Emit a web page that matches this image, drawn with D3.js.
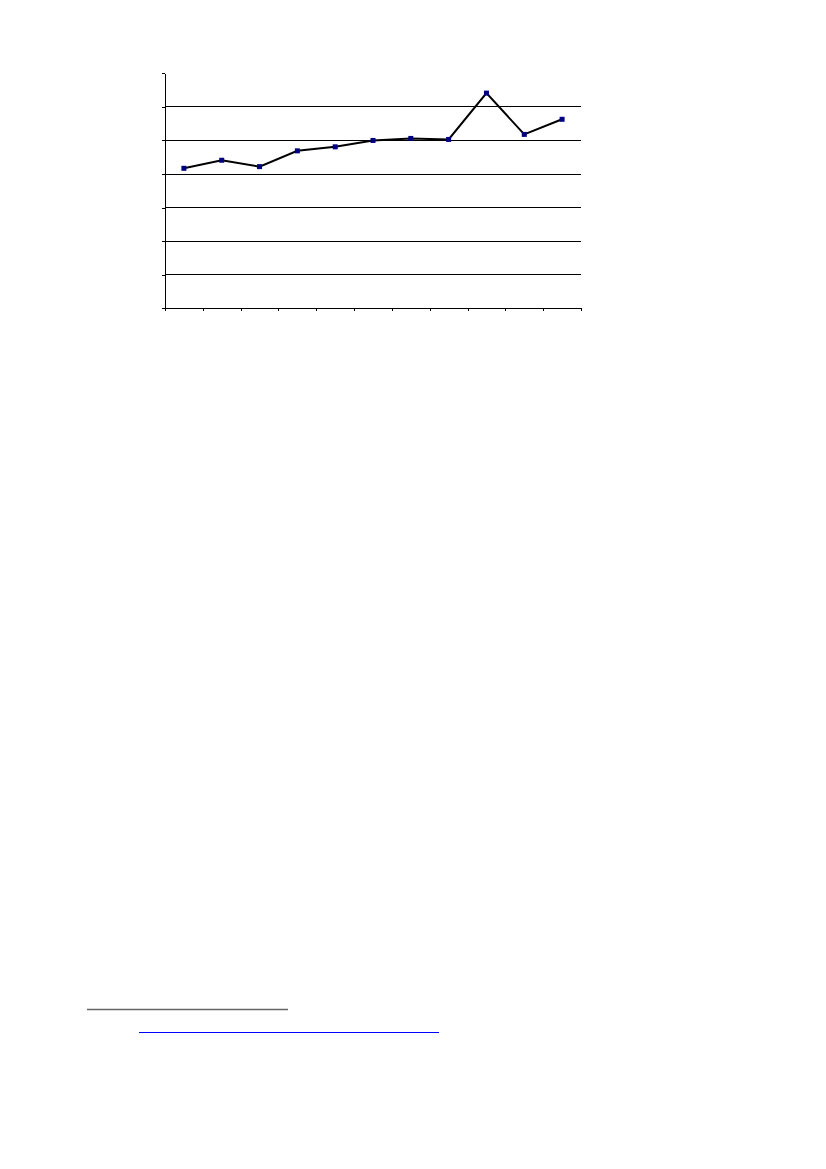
<!DOCTYPE html>
<html>
<head>
<meta charset="utf-8">
<script src="https://cdn.jsdelivr.net/npm/d3@7"></script>
<style>
  html, body { margin: 0; padding: 0; background: #fff; }
  svg { display: block; }
</style>
</head>
<body>
<div id="chart"></div>
<script>
// data (no labels are printed in the original)
var categories = ["1", "2", "3", "4", "5", "6", "7", "8", "9", "10", "11"];
var values = [4.17, 4.41, 4.22, 4.69, 4.81, 5.00, 5.06, 5.03, 6.41, 5.18, 5.63];
var yTicks = [0, 1, 2, 3, 4, 5, 6, 7];

var width = 826;
var height = 1169;

var svg = d3.select("#chart").append("svg")
  .attr("width", width).attr("height", height);

var plot = { left: 165, right: 581, top: 73.3, bottom: 308.3 };

var x = d3.scaleLinear().domain([0, categories.length]).range([plot.left, plot.right]);
var y = d3.scaleLinear().domain([0, 7]).range([plot.bottom, plot.top]);

// horizontal grid lines (none at the top edge)
svg.append("g").selectAll("line")
  .data(yTicks.filter(function(d) { return d > 0 && d < 7; }))
  .enter().append("line")
  .attr("x1", plot.left).attr("x2", plot.right)
  .attr("y1", function(d) { return y(d); })
  .attr("y2", function(d) { return y(d); })
  .attr("stroke", "#000").attr("stroke-width", 1)
  .attr("shape-rendering", "crispEdges");

var yAxis = d3.axisLeft(y).tickValues(yTicks).tickFormat("").tickSizeInner(3).tickSizeOuter(0);
svg.append("g").attr("transform", "translate(" + plot.left + ",0)").call(yAxis)
  .call(function(g) { g.selectAll("line, path").attr("stroke", "#000").attr("shape-rendering", "crispEdges"); });

var xAxis = d3.axisBottom(x).tickValues(d3.range(categories.length + 1)).tickFormat("").tickSizeInner(3).tickSizeOuter(0);
svg.append("g").attr("transform", "translate(0," + plot.bottom + ")").call(xAxis)
  .call(function(g) { g.selectAll("line, path").attr("stroke", "#000").attr("shape-rendering", "crispEdges"); });

var line = d3.line()
  .x(function(d, i) { return x(i + 0.5); })
  .y(function(d) { return y(d); });

svg.append("path").datum(values)
  .attr("d", line)
  .attr("fill", "none")
  .attr("stroke", "#000")
  .attr("stroke-width", 2);

var m = 5;
svg.append("g").selectAll("rect")
  .data(values)
  .enter().append("rect")
  .attr("x", function(d, i) { return x(i + 0.5) - m / 2; })
  .attr("y", function(d) { return y(d) - m / 2; })
  .attr("width", m).attr("height", m)
  .attr("fill", "#000080");

// footnote rule and link underline
svg.append("line")
  .attr("x1", 87).attr("x2", 288).attr("y1", 1009.5).attr("y2", 1009.5)
  .attr("stroke", "#666").attr("stroke-width", 1.5);
svg.append("line")
  .attr("x1", 139).attr("x2", 439).attr("y1", 1032.5).attr("y2", 1032.5)
  .attr("stroke", "#0000ff").attr("stroke-width", 1.2);
</script>
</body>
</html>
